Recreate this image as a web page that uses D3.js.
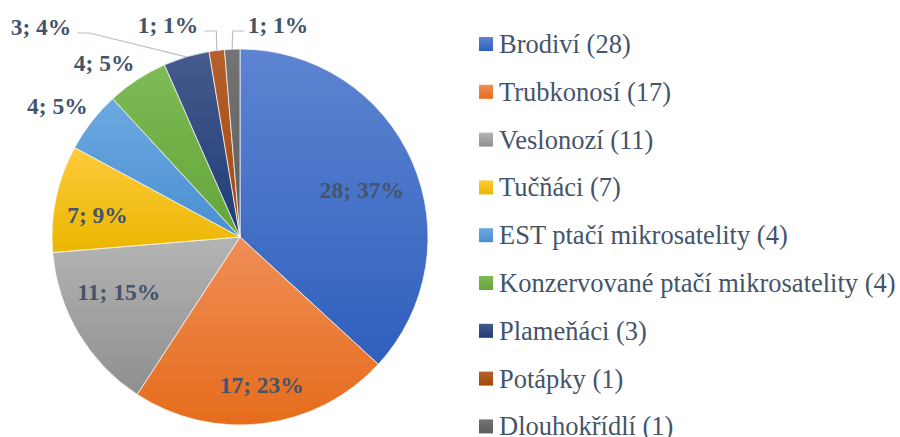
<!DOCTYPE html>
<html>
  <head>
    <meta charset="utf-8">
    <title>Pie - ptáci</title>
    <script src="https://d3js.org/d3.v7.min.js"></script>
    <style>
      body { margin: 0; background: #fff; }
      svg { display: block; }
    </style>
  </head>
  <body>
    <svg></svg>
    <script>
      // data
      const categories = ['Brodiví', 'Trubkonosí', 'Veslonozí', 'Tučňáci', 'EST ptačí mikrosatelity',
        'Konzervované ptačí mikrosatelity', 'Plameňáci', 'Potápky', 'Dlouhokřídlí'];
      const values = [28, 17, 11, 7, 4, 4, 3, 1, 1];
      const percents = ['37%', '23%', '15%', '9%', '5%', '5%', '4%', '1%', '1%'];
      const colorsTop = ['#5d84d1', '#f08e58', '#b4b4b4', '#ffc93c', '#6ca9e0', '#7dbb54', '#465b8e', '#b5602e', '#747474'];
      const colorsBottom = ['#2f60bd', '#e56c1b', '#8f8f8f', '#eab700', '#4a8fd2', '#64a53a', '#1f3b75', '#a2480b', '#5c5c5c'];

      const FONT = "'Liberation Serif', 'Times New Roman', serif";
      const TEXT_COLOR = '#44546A';

      const svg = d3.select('svg')
        .attr('width', 900)
        .attr('height', 437);

      const cx = 240, cy = 237, radius = 188;

      // gradients
      const defs = svg.append('defs');
      categories.forEach((c, i) => {
        const grad = defs.append('linearGradient')
          .attr('id', 'grad' + i)
          .attr('x1', 0).attr('y1', 0).attr('x2', 0).attr('y2', 1);
        grad.append('stop').attr('offset', '0%').attr('stop-color', colorsTop[i]);
        grad.append('stop').attr('offset', '100%').attr('stop-color', colorsBottom[i]);
      });

      const data = categories.map((c, i) => ({ name: c, value: values[i], pct: percents[i], i: i }));

      const pie = d3.pie().sort(null).value(d => d.value);
      const arcs = pie(data);
      const arc = d3.arc().innerRadius(0).outerRadius(radius);

      const g = svg.append('g').attr('transform', `translate(${cx},${cy})`);

      g.selectAll('path.slice').data(arcs)
        .enter().append('path')
          .attr('class', 'slice')
          .attr('d', arc)
          .attr('fill', d => `url(#grad${d.data.i})`)
          .attr('stroke', '#fff')
          .attr('stroke-width', 0.7);

      // label placement
      const mid = d => (d.startAngle + d.endAngle) / 2;
      const polar = (a, r) => [r * Math.sin(a), -r * Math.cos(a)];

      const insideNudge = { 0: [-2, 7], 1: [5, 14], 2: [-5, -14], 3: [-10, 6] };
      const outsideCorner = { 4: true, 5: true };
      const leaderLabels = { 6: [41 - cx, 27 - cy], 7: [168 - cx, 25 - cy], 8: [278 - cx, 25 - cy] };

      const labelFont = 23.5;

      arcs.forEach(d => {
        const i = d.data.i;
        const txt = `${d.data.value}; ${d.data.pct}`;
        const t = g.append('text')
          .attr('font-family', FONT)
          .attr('fill', TEXT_COLOR)
          .attr('font-size', labelFont)
          .attr('font-weight', 'bold')
          .attr('dominant-baseline', 'central')
          .text(txt);
        if (insideNudge[i]) {
          const p = polar(mid(d), radius * 0.72);
          t.attr('x', p[0] + insideNudge[i][0])
            .attr('y', p[1] + insideNudge[i][1])
            .attr('text-anchor', 'middle');
        } else if (outsideCorner[i]) {
          const p = polar(mid(d), radius + 5);
          t.attr('x', p[0])
            .attr('y', p[1] - 12)
            .attr('text-anchor', 'end');
        } else {
          const lp = leaderLabels[i];
          t.attr('x', lp[0]).attr('y', lp[1]).attr('text-anchor', 'middle');
          const w = t.node().getComputedTextLength();
          const edge = polar(mid(d), radius);
          const toRight = edge[0] > lp[0];
          const sx = toRight ? lp[0] + w / 2 + 6 : lp[0] - w / 2 - 3;
          const sy = lp[1] + 6;
          const bx = toRight ? sx + 12 : sx - 12;
          g.insert('polyline', 'text')
            .attr('points', [[sx, sy], [bx, sy], edge].map(p => p.join(',')).join(' '))
            .attr('fill', 'none')
            .attr('stroke', '#b4c0cf')
            .attr('stroke-width', 1.2);
        }
      });

      // legend
      const legend = svg.append('g').attr('transform', 'translate(479,44)');
      const rowH = 47.8;
      const item = legend.selectAll('g').data(data)
        .enter().append('g')
          .attr('transform', (d, i) => `translate(0,${i * rowH})`);
      item.append('rect')
        .attr('x', 0).attr('y', -7)
        .attr('width', 14).attr('height', 14)
        .attr('fill', d => `url(#grad${d.i})`);
      item.append('text')
        .attr('x', 20).attr('y', 9)
        .attr('font-family', FONT)
        .attr('fill', TEXT_COLOR)
        .attr('font-size', 26.5)
        .text(d => `${d.name} (${d.value})`);
    </script>
  </body>
</html>
